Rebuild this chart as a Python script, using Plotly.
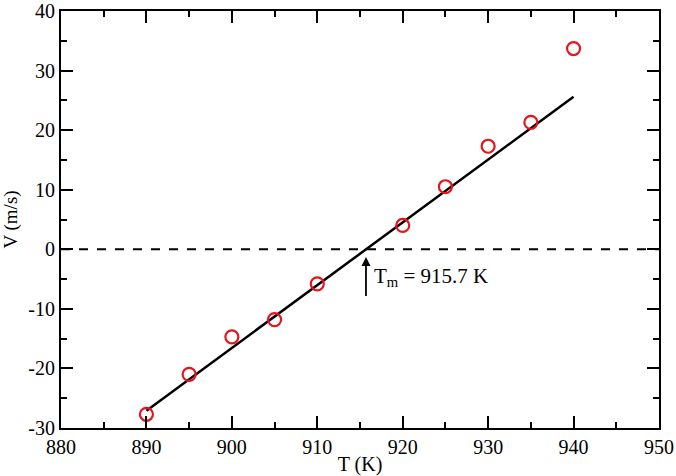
import plotly.graph_objects as go

T = [890, 895, 900, 905, 910, 920, 925, 930, 935, 940]
V = [-27.7, -21.0, -14.7, -11.8, -5.8, 4.0, 10.5, 17.3, 21.3, 33.7]
fit_T = [890, 940]
fit_V = [-27.1, 25.6]
Tm = 915.7
arrow_tail = -9.5
arrow_tip = -1.3
x_ticks = [880, 890, 900, 910, 920, 930, 940, 950]
x_labels = ["880", "890", "900", "910", "920", "930", "940", "950"]
y_ticks = [-30, -20, -10, 0, 10, 20, 30, 40]
y_labels = ["-30", "-20", "-10", "0", "10", "20", "30", "40"]

font = "Liberation Serif"
fig = go.Figure()
fig.add_trace(go.Scatter(x=[880, 950], y=[0, 0], mode="lines",
                         line=dict(color="black", width=2, dash="dash"), hoverinfo="skip"))
fig.add_trace(go.Scatter(x=fit_T, y=fit_V, mode="lines",
                         line=dict(color="black", width=2.5)))
fig.add_trace(go.Scatter(x=T, y=V, mode="markers",
                         marker=dict(symbol="circle-open", size=13, color="#e8141a",
                                     line=dict(width=2.2, color="#e8141a"))))
fig.add_annotation(x=Tm, y=arrow_tip, ax=Tm, ay=arrow_tail, xref="x", yref="y",
                   axref="x", ayref="y", showarrow=True, arrowhead=2, arrowsize=1,
                   arrowwidth=1.8, arrowcolor="black", text=" ")
fig.add_annotation(x=916.4, y=-4.6, xref="x", yref="y", showarrow=False,
                   xanchor="left", yanchor="middle",
                   text="T<sub>m</sub> = 915.7 K",
                   font=dict(family=font, size=21, color="black"))

axis_common = dict(showgrid=False, zeroline=False, showline=True, linecolor="black",
                   linewidth=2, mirror="allticks", ticks="inside", ticklen=12,
                   tickwidth=2, tickcolor="black", ticklabeloverflow="allow",
                   automargin=False,
                   tickfont=dict(family=font, size=20, color="black"))
fig.update_xaxes(range=[880, 950], tickmode="array", tickvals=x_ticks, ticktext=x_labels,
                 minor=dict(ticks="inside", dtick=5, tick0=880, ticklen=6, tickwidth=2, tickcolor="black"),
                 title=dict(text="T (K)", font=dict(family=font, size=20, color="black"), standoff=0),
                 **axis_common)
fig.update_yaxes(range=[-30, 40], tickmode="array", tickvals=y_ticks, ticktext=y_labels,
                 minor=dict(ticks="inside", dtick=5, tick0=-30, ticklen=6, tickwidth=2, tickcolor="black"),
                 title=dict(text="V (m/s)", font=dict(family=font, size=19, color="black"), standoff=6),
                 **axis_common)
fig.update_layout(width=676, height=476, showlegend=False,
                  margin=dict(l=61, r=17, t=11, b=48),
                  plot_bgcolor="white", paper_bgcolor="white")
fig.write_html("out.html")
